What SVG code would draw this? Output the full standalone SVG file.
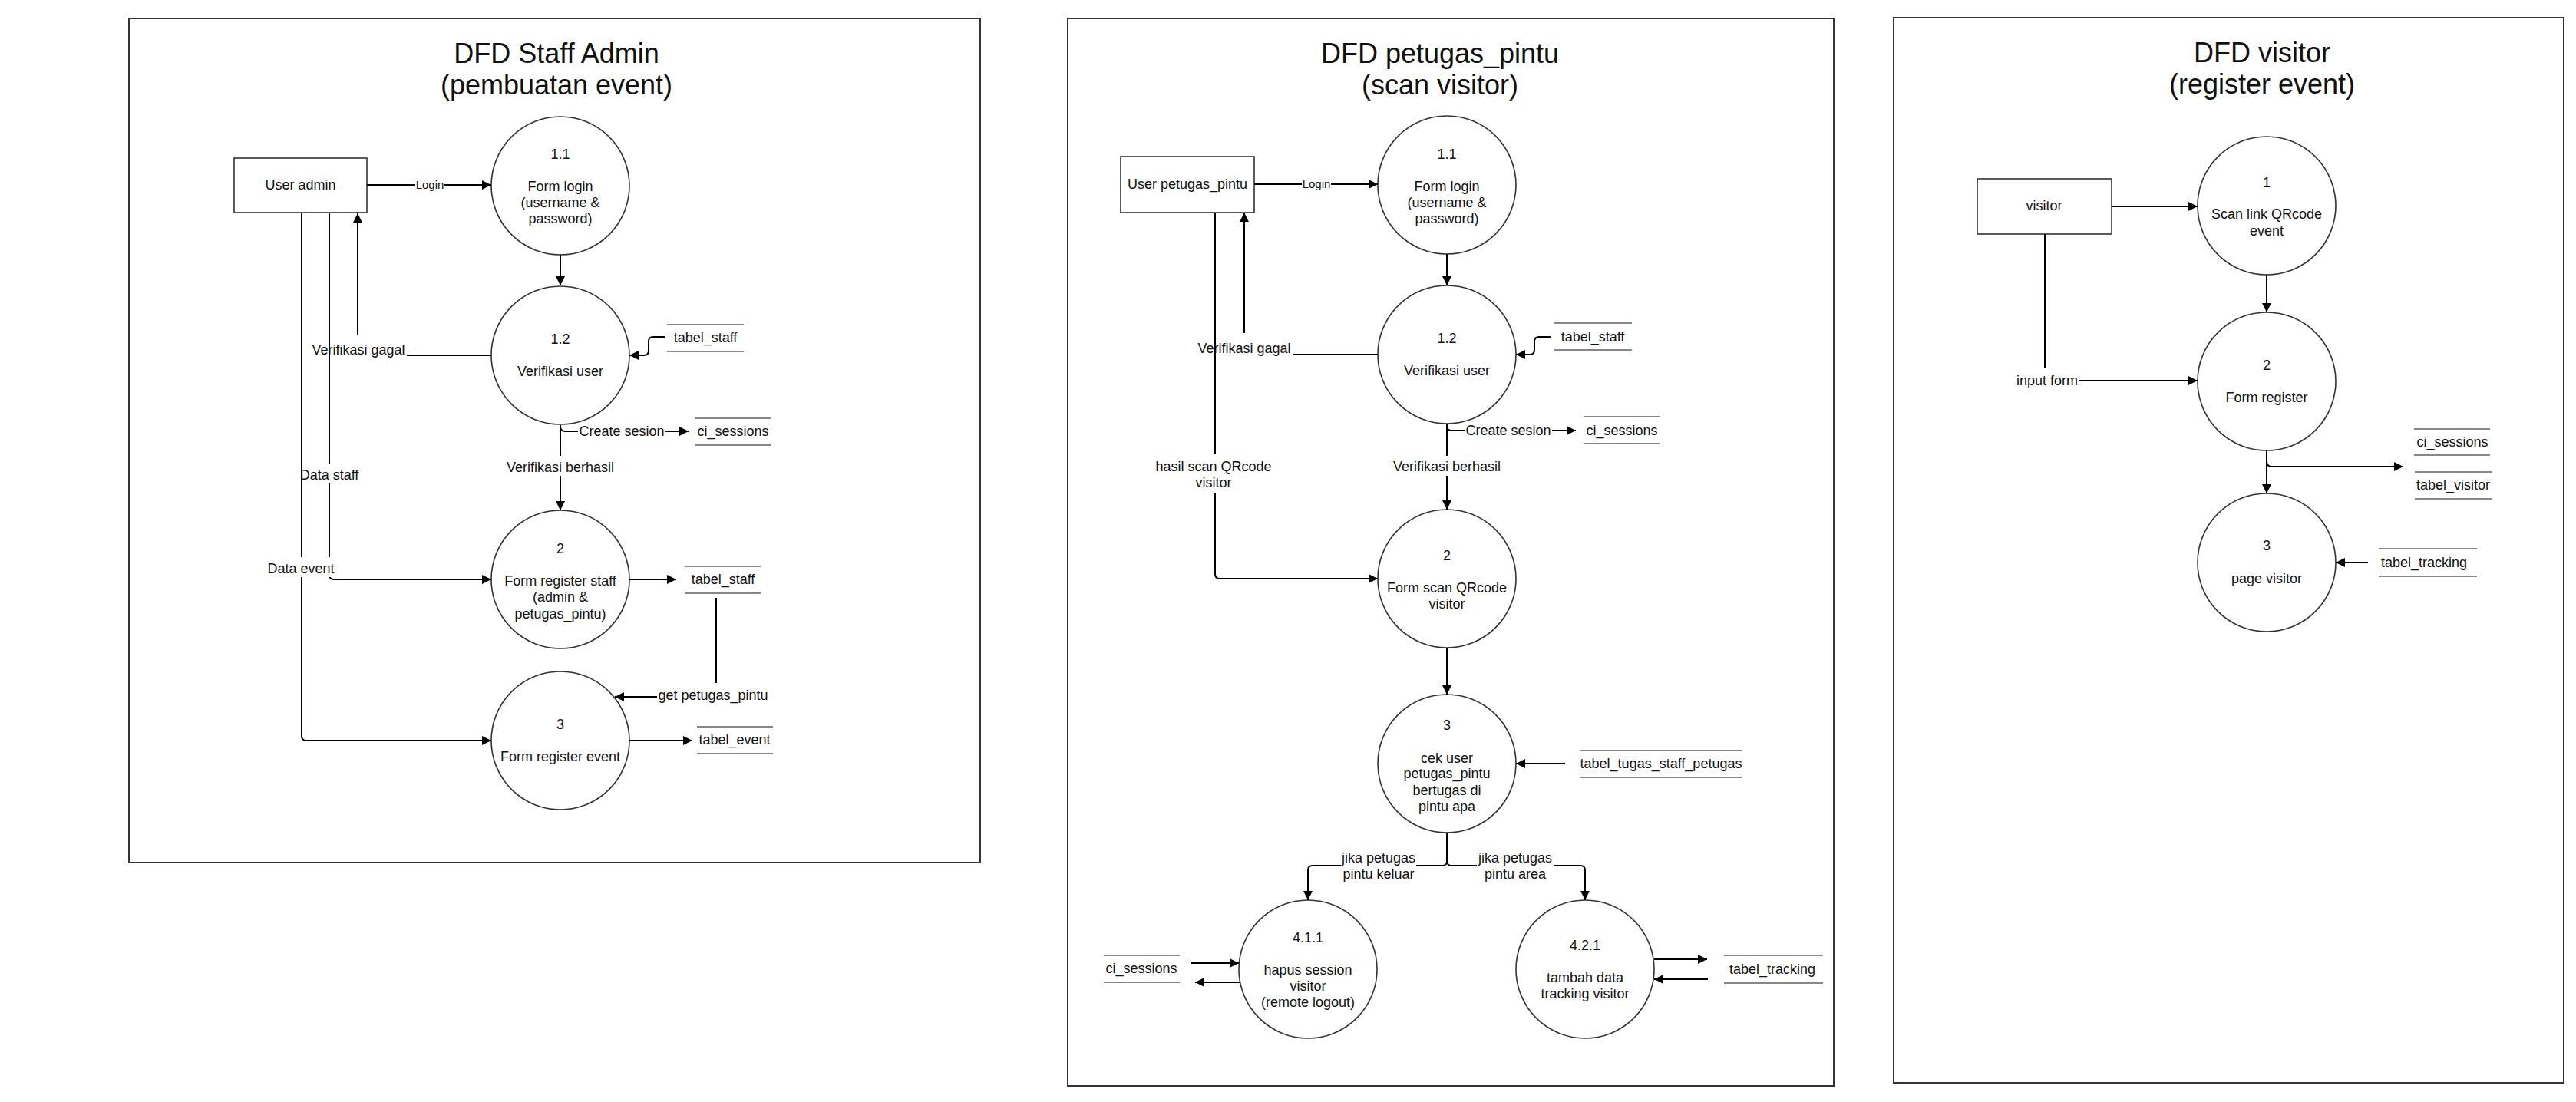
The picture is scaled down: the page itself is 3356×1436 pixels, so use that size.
<svg xmlns="http://www.w3.org/2000/svg" width="3356" height="1436" viewBox="0 0 3356 1436">
<defs>
<style>
text{font-family:"Liberation Sans",Arial,sans-serif;font-size:18px;fill:#111;text-anchor:middle}
.title{font-size:36px}
.small{font-size:15px}
.panel{fill:#fff;stroke:#333;stroke-width:2}
.proc{fill:#fff;stroke:#333;stroke-width:1.6}
.ent{fill:#fff;stroke:#333;stroke-width:1.6}
.store line{stroke:#888;stroke-width:2}
.edge{fill:none;stroke:#000;stroke-width:2;marker-end:url(#arr)}
.bg{fill:#fff}
</style>
<marker id="arr" viewBox="0 0 12 12" refX="12" refY="6" markerWidth="12" markerHeight="12" markerUnits="userSpaceOnUse" orient="auto"><path d="M0,0 L12,6 L0,12 z" fill="#000"/></marker>
</defs>
<rect x="0" y="0" width="3356" height="1436" fill="#fff"/>

<!-- ===== LEFT PANEL ===== -->
<g id="panel-staff-admin">
<rect class="panel" x="168" y="24" width="1109" height="1100"/>
<text class="title" x="725" y="82">DFD Staff Admin</text>
<text class="title" x="725" y="123">(pembuatan event)</text>
</g>
<g id="l-user-admin"><rect class="ent" x="305" y="206" width="173" height="71"/><text x="391.5" y="247">User admin</text></g>
<g id="l-p1-1"><circle class="proc" cx="730" cy="242" r="90"/><text x="730" y="207">1.1</text><text x="730" y="249">Form login</text><text x="730" y="270">(username &amp;</text><text x="730" y="291">password)</text></g>
<g id="l-p1-2"><circle class="proc" cx="730" cy="463" r="90"/><text x="730" y="448">1.2</text><text x="730" y="490">Verifikasi user</text></g>
<g id="l-p2"><circle class="proc" cx="730" cy="755" r="90"/><text x="730" y="721">2</text><text x="730" y="763">Form register staff</text><text x="730" y="784">(admin &amp;</text><text x="730" y="806">petugas_pintu)</text></g>
<g id="l-p3"><circle class="proc" cx="730" cy="965" r="90"/><text x="730" y="950">3</text><text x="730" y="992">Form register event</text></g>
<g id="l-ds-staff-1" class="store"><line x1="869" y1="423" x2="969" y2="423"/><line x1="869" y1="458" x2="969" y2="458"/><text x="919" y="446">tabel_staff</text></g>
<g id="l-ds-ci-sessions" class="store"><line x1="906" y1="545" x2="1005" y2="545"/><line x1="906" y1="580" x2="1005" y2="580"/><text x="955" y="568">ci_sessions</text></g>
<g id="l-ds-staff-2" class="store"><line x1="893" y1="738" x2="991" y2="738"/><line x1="893" y1="773" x2="991" y2="773"/><text x="942" y="761">tabel_staff</text></g>
<g id="l-ds-event" class="store"><line x1="908" y1="947" x2="1007" y2="947"/><line x1="908" y1="982" x2="1007" y2="982"/><text x="957" y="970">tabel_event</text></g>

<!-- ===== MIDDLE PANEL ===== -->
<g id="panel-petugas-pintu">
<rect class="panel" x="1391" y="24" width="998" height="1391"/>
<text class="title" x="1876" y="82">DFD petugas_pintu</text>
<text class="title" x="1876" y="123">(scan visitor)</text>
</g>
<g id="m-user-petugas"><rect class="ent" x="1460" y="204" width="174" height="73"/><text x="1547" y="246">User petugas_pintu</text></g>
<g id="m-p1-1"><circle class="proc" cx="1885" cy="241" r="90"/><text x="1885" y="207">1.1</text><text x="1885" y="249">Form login</text><text x="1885" y="270">(username &amp;</text><text x="1885" y="291">password)</text></g>
<g id="m-p1-2"><circle class="proc" cx="1885" cy="462" r="90"/><text x="1885" y="447">1.2</text><text x="1885" y="489">Verifikasi user</text></g>
<g id="m-p2"><circle class="proc" cx="1885" cy="754" r="90"/><text x="1885" y="730">2</text><text x="1885" y="772">Form scan QRcode</text><text x="1885" y="793">visitor</text></g>
<g id="m-p3"><circle class="proc" cx="1885" cy="995" r="90"/><text x="1885" y="951">3</text><text x="1885" y="994">cek user</text><text x="1885" y="1014">petugas_pintu</text><text x="1885" y="1036">bertugas di</text><text x="1885" y="1057">pintu apa</text></g>
<g id="m-p4-1-1"><circle class="proc" cx="1704" cy="1263" r="90"/><text x="1704" y="1228">4.1.1</text><text x="1704" y="1270">hapus session</text><text x="1704" y="1291">visitor</text><text x="1704" y="1312">(remote logout)</text></g>
<g id="m-p4-2-1"><circle class="proc" cx="2065" cy="1263" r="90"/><text x="2065" y="1238">4.2.1</text><text x="2065" y="1280">tambah data</text><text x="2065" y="1301">tracking visitor</text></g>
<g id="m-ds-staff" class="store"><line x1="2025" y1="421" x2="2126" y2="421"/><line x1="2025" y1="456" x2="2126" y2="456"/><text x="2075" y="445">tabel_staff</text></g>
<g id="m-ds-ci-sessions" class="store"><line x1="2063" y1="543" x2="2163" y2="543"/><line x1="2063" y1="578" x2="2163" y2="578"/><text x="2113" y="567">ci_sessions</text></g>
<g id="m-ds-tugas" class="store"><line x1="2059" y1="978" x2="2269" y2="978"/><line x1="2059" y1="1013" x2="2269" y2="1013"/><text x="2164" y="1001">tabel_tugas_staff_petugas</text></g>
<g id="m-ds-ci-sessions-2" class="store"><line x1="1438" y1="1245" x2="1537" y2="1245"/><line x1="1438" y1="1280" x2="1537" y2="1280"/><text x="1487" y="1268">ci_sessions</text></g>
<g id="m-ds-tracking" class="store"><line x1="2246" y1="1245" x2="2375" y2="1245"/><line x1="2246" y1="1281" x2="2375" y2="1281"/><text x="2309" y="1269">tabel_tracking</text></g>

<!-- ===== RIGHT PANEL ===== -->
<g id="panel-visitor">
<rect class="panel" x="2467" y="23" width="873" height="1388"/>
<text class="title" x="2947" y="81">DFD visitor</text>
<text class="title" x="2947" y="122">(register event)</text>
</g>
<g id="r-visitor"><rect class="ent" x="2576" y="233" width="175" height="72"/><text x="2663" y="274">visitor</text></g>
<g id="r-p1"><circle class="proc" cx="2953" cy="268" r="90"/><text x="2953" y="244">1</text><text x="2953" y="285">Scan link QRcode</text><text x="2953" y="307">event</text></g>
<g id="r-p2"><circle class="proc" cx="2953" cy="497" r="90"/><text x="2953" y="482">2</text><text x="2953" y="524">Form register</text></g>
<g id="r-p3"><circle class="proc" cx="2953" cy="733" r="90"/><text x="2953" y="717">3</text><text x="2953" y="760">page visitor</text></g>
<g id="r-ds-ci-sessions" class="store"><line x1="3145" y1="559" x2="3244" y2="559"/><line x1="3145" y1="593" x2="3244" y2="593"/><text x="3195" y="582">ci_sessions</text></g>
<g id="r-ds-visitor" class="store"><line x1="3146" y1="615" x2="3246" y2="615"/><line x1="3146" y1="650" x2="3246" y2="650"/><text x="3196" y="638">tabel_visitor</text></g>
<g id="r-ds-tracking" class="store"><line x1="3099" y1="715" x2="3227" y2="715"/><line x1="3099" y1="751" x2="3227" y2="751"/><text x="3158" y="739">tabel_tracking</text></g>

<!-- ===== CONNECTORS ===== -->
<g id="connectors">
<!-- left -->
<path class="edge" d="M478 241 H640"/><rect class="bg" x="541" y="232" width="38" height="18"/><text class="small" x="560" y="246">Login</text>
<path class="edge" d="M730 332 V372"/>
<path class="edge" d="M866 439 H851 Q845 439 845 445 V457 Q845 463 839 463 H820"/>
<path class="edge" d="M640 463 H466 V278"/><rect class="bg" x="405" y="436" width="125" height="34"/><text x="467" y="462">Verifikasi gagal</text>
<path class="edge" d="M429 277 V749 Q429 755 435 755 H640"/><rect class="bg" x="389" y="604" width="80" height="26"/><text x="429" y="625">Data staff</text>
<path class="edge" d="M393 277 V959 Q393 965 399 965 H640"/><rect class="bg" x="348" y="726" width="90" height="26"/><text x="392" y="747">Data event</text>
<path class="edge" d="M730 554 V665"/><rect class="bg" x="659" y="594" width="142" height="26"/><text x="730" y="615">Verifikasi berhasil</text>
<path class="edge" d="M730 554 V556 Q730 562 736 562 H897"/><rect class="bg" x="753" y="552" width="114" height="20"/><text x="810" y="568">Create sesion</text>
<path class="edge" d="M820 755 H881"/>
<path class="edge" d="M933 779 V908 H801"/><rect class="bg" x="856" y="890" width="146" height="32"/><text x="929" y="912">get petugas_pintu</text>
<path class="edge" d="M820 965 H902"/>
<!-- middle -->
<path class="edge" d="M1634 240 H1795"/><rect class="bg" x="1696" y="231" width="38" height="18"/><text class="small" x="1715" y="245">Login</text>
<path class="edge" d="M1885 331 V372"/>
<path class="edge" d="M2020 439 H2005 Q1999 439 1999 445 V456 Q1999 462 1993 462 H1975"/>
<path class="edge" d="M1795 462 H1621 V277"/><rect class="bg" x="1559" y="434" width="125" height="34"/><text x="1621" y="460">Verifikasi gagal</text>
<path class="edge" d="M1583 277 V748 Q1583 754 1589 754 H1795"/><rect class="bg" x="1504" y="592" width="154" height="50"/><text x="1581" y="614">hasil scan QRcode</text><text x="1581" y="635">visitor</text>
<path class="edge" d="M1885 552 V664"/><rect class="bg" x="1814" y="594" width="142" height="26"/><text x="1885" y="614">Verifikasi berhasil</text>
<path class="edge" d="M1885 552 V555 Q1885 561 1891 561 H2053"/><rect class="bg" x="1908" y="551" width="114" height="20"/><text x="1965" y="567">Create sesion</text>
<path class="edge" d="M1885 844 V905"/>
<path class="edge" d="M2039 995 H1975"/>
<path class="edge" d="M1885 1085 V1122 Q1885 1128 1879 1128 H1710 Q1704 1128 1704 1134 V1173"/>
<path class="edge" d="M1885 1085 V1122 Q1885 1128 1891 1128 H2059 Q2065 1128 2065 1134 V1173"/>
<rect class="bg" x="1747" y="1105" width="98" height="46"/><text x="1796" y="1124">jika petugas</text><text x="1796" y="1145">pintu keluar</text>
<rect class="bg" x="1924" y="1105" width="100" height="46"/><text x="1974" y="1124">jika petugas</text><text x="1974" y="1145">pintu area</text>
<path class="edge" d="M1551 1255 H1614"/>
<path class="edge" d="M1615 1280 H1557"/>
<path class="edge" d="M2155 1250 H2224"/>
<path class="edge" d="M2225 1276 H2155"/>
<!-- right -->
<path class="edge" d="M2751 269 H2863"/>
<path class="edge" d="M2953 358 V407"/>
<path class="edge" d="M2664 305 V496 H2863"/><rect class="bg" x="2626" y="480" width="82" height="28"/><text x="2667" y="502">input form</text>
<path class="edge" d="M2953 587 V601 Q2953 608 2960 608 H3131"/>
<path class="edge" d="M2953 587 V643"/>
<path class="edge" d="M3085 733 H3043"/>
</g>
</svg>
